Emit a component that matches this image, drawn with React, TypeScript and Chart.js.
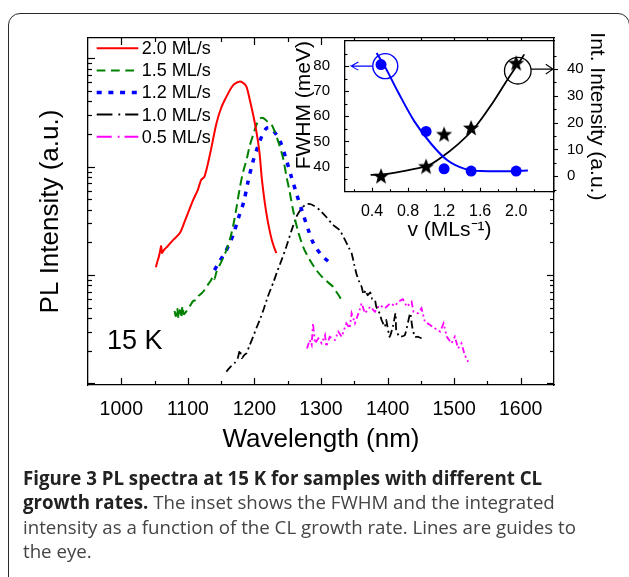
import React, { useEffect, useRef } from 'react';
import { Chart, registerables } from 'chart.js';

Chart.register(...registerables);

const FONT = "'Liberation Sans', Arial, Helvetica, sans-serif";

// ---------------- main chart data ----------------
const seriesLabels = ['2.0 ML/s', '1.5 ML/s', '1.2 ML/s', '1.0 ML/s', '0.5 ML/s'];
const seriesColors = ['#ff0000', '#008000', '#0000ff', '#000000', '#ff00ff'];

const redWl = [1052, 1054, 1056, 1058, 1060, 1061, 1064, 1070, 1078, 1088, 1095, 1102, 1108, 1115, 1120, 1125, 1133, 1143, 1150, 1158, 1165, 1170, 1177, 1183, 1188, 1193, 1200, 1205, 1208, 1211, 1215, 1218, 1222, 1226, 1230, 1233];
const redI = [11.8, 13.2, 14.4, 16.3, 18.5, 16.0, 17.0, 18.5, 21.1, 24.4, 30.9, 39.8, 49.3, 61, 75.5, 81, 128, 251, 348, 443, 533, 580, 609, 593, 548, 414, 264, 177, 128, 78.7, 49.3, 37.1, 27.2, 21.1, 17.7, 15.9];

const greenWl = [1080, 1082, 1084, 1086, 1088, 1090, 1092, 1094, 1097, 1100, 1104, 1108, 1112, 1116, 1120, 1125, 1130, 1135, 1138, 1140, 1143, 1148, 1153, 1158, 1163, 1168, 1173, 1178, 1183, 1188, 1193, 1198, 1203, 1208, 1211, 1215, 1220, 1226, 1230, 1236, 1243, 1248, 1253, 1258, 1265, 1273, 1283, 1293, 1303, 1310, 1318, 1323, 1328, 1331];
const greenI = [4.65, 4.18, 4.96, 4.0, 4.75, 4.0, 5.17, 4.36, 4.55, 4.85, 5.28, 5.75, 5.88, 6.4, 6.7, 7.27, 8.1, 9.0, 9.8, 9.2, 10.7, 12.4, 14.4, 17.0, 21.1, 28.3, 41.6, 63.6, 89.4, 115, 156, 196, 243, 276, 282, 276, 259, 243, 214, 169, 120, 82, 58.4, 39.8, 26, 18.3, 13.8, 11.1, 9.4, 8.6, 7.8, 7.0, 6.3, 5.75];

const blueWl = [1140, 1148, 1156, 1162, 1168, 1176, 1184, 1190, 1197, 1205, 1212, 1218, 1224, 1230, 1238, 1248, 1256, 1263, 1272, 1281, 1287, 1293, 1302, 1311];
const blueI = [11.1, 13.5, 16.1, 19.3, 23.4, 33.6, 47.5, 70.7, 107, 153, 196, 226, 228, 209, 176, 115, 78.7, 56.8, 38.2, 26.0, 20.6, 17.6, 15.0, 13.3];

const blackWl = [1158, 1160, 1165, 1170, 1175, 1178, 1181, 1185, 1188, 1193, 1198, 1203, 1208, 1214, 1220, 1228, 1235, 1242, 1248, 1255, 1263, 1270, 1276, 1282, 1290, 1298, 1308, 1318, 1328, 1336, 1342, 1346, 1350, 1353, 1357, 1361, 1364, 1367, 1370, 1374, 1377, 1381, 1383, 1388, 1391, 1396, 1398, 1403, 1408, 1412, 1413, 1418, 1426, 1434, 1437, 1441, 1446, 1451];
const blackI = [1.28, 1.33, 1.44, 1.53, 1.71, 2.03, 1.71, 1.83, 1.89, 2.26, 2.69, 3.24, 3.84, 4.85, 6.3, 8.4, 11.1, 14.4, 18.3, 25, 34.5, 40.7, 44.3, 45.3, 43.4, 39.8, 34.3, 29, 26.0, 21.1, 17.8, 15.9, 12.4, 10.4, 8.8, 7.8, 6.6, 7.2, 6.5, 6.9, 6.0, 5.9, 5.1, 4.43, 3.84, 3.33, 3.84, 2.69, 3.33, 4.43, 3.1, 2.69, 2.79, 4.43, 3.33, 2.69, 2.69, 2.6];

const magWl = [1279, 1283, 1286, 1288, 1291, 1296, 1301, 1306, 1308, 1313, 1321, 1326, 1331, 1338, 1343, 1346, 1351, 1358, 1361, 1366, 1374, 1381, 1388, 1396, 1404, 1411, 1416, 1423, 1429, 1436, 1439, 1446, 1451, 1456, 1464, 1471, 1479, 1484, 1489, 1496, 1501, 1506, 1511, 1516, 1521];
const magI = [2.1, 2.51, 2.26, 3.58, 2.34, 2.6, 2.34, 2.79, 2.18, 2.69, 2.51, 3.0, 2.69, 3.58, 3.22, 4.43, 3.58, 4.75, 5.48, 4.43, 5.1, 4.58, 5.28, 4.93, 5.48, 5.17, 5.67, 5.97, 5.1, 5.67, 4.58, 4.43, 4.93, 3.7, 3.45, 3.22, 3.0, 3.58, 2.69, 2.34, 2.69, 2.1, 2.34, 1.82, 1.58];

const xMajorTicks = [1000, 1100, 1200, 1300, 1400, 1500, 1600];
const xMinorTicks = [1050, 1150, 1250, 1350, 1450, 1550];
const yMajorTicks = [1, 10, 100, 1000];
const yMinorTicks = [2, 3, 4, 5, 6, 7, 8, 9, 20, 30, 40, 50, 60, 70, 80, 90, 200, 300, 400, 500, 600, 700, 800, 900];

// ---------------- inset data ----------------
const rateV = [0.5, 1.0, 1.2, 1.5, 2.0];
const fwhmMeV = [80.6, 54.0, 39.1, 38.2, 38.2];
const intAU = [0, 3.6, 15.6, 18.0, 42.2];

const fwhmGuideV = [0.45, 0.54, 0.69, 0.87, 1.06, 1.24, 1.43, 1.61, 1.8, 2.13];
const fwhmGuide = [85.2, 80, 69.6, 58, 48.9, 42.4, 39.1, 38.2, 38.1, 38.4];
const intGuideV = [0.385, 0.503, 0.688, 0.872, 1.02, 1.168, 1.353, 1.537, 1.723, 1.908, 2.036, 2.09];
const intGuide = [0.5, 0.6, 1.5, 2.7, 3.9, 7.0, 11.9, 18.0, 26.6, 36.3, 42.7, 45.5];

const blueRingV = [0.547];
const blueRingY = [80];
const blackRingV = [2.018];
const blackRingY = [39.4];
const blueArrowV = [0.248, 0.17, 0.248, 0.17, 0.41];
const blueArrowY = [81.6, 80, 78.4, 80, 80];
const blackArrowV = [2.329, 2.407, 2.329, 2.407, 2.166];
const blackArrowY = [41.8, 40, 38.2, 40, 40];

const insetXTicks = [0.4, 0.8, 1.2, 1.6, 2.0];
const insetXMinor = [0.2, 0.6, 1.0, 1.4, 1.8, 2.2];
const insetLTicks = [40, 50, 60, 70, 80];
const insetLMinor = [35, 45, 55, 65, 75, 85];
const insetRTicks = [0, 10, 20, 30, 40];
const insetRMinor = [-5, 5, 15, 25, 35, 45];

const toXY = (xs: number[], ys: number[]) => xs.map((x, i) => ({ x, y: ys[i] }));

type TickSpec = {
  scale: string;
  side: 'top' | 'bottom' | 'left' | 'right';
  major: number[];
  minor: number[];
  majorLen: number;
  minorLen: number;
  outward?: boolean;
};

function makeTickPlugin(id: string, specs: TickSpec[], width: number) {
  return {
    id,
    afterDraw(chart: any) {
      const { ctx, chartArea: a } = chart;
      ctx.save();
      ctx.strokeStyle = '#000';
      ctx.lineWidth = width;
      for (const s of specs) {
        const sc = chart.scales[s.scale];
        const draw = (v: number, len: number) => {
          const p = Math.round(sc.getPixelForValue(v)) + 0.5;
          const d = s.outward ? -len : len;
          ctx.beginPath();
          if (s.side === 'bottom') { ctx.moveTo(p, a.bottom); ctx.lineTo(p, a.bottom - d); }
          else if (s.side === 'top') { ctx.moveTo(p, a.top); ctx.lineTo(p, a.top + d); }
          else if (s.side === 'left') { ctx.moveTo(a.left, p); ctx.lineTo(a.left + d, p); }
          else { ctx.moveTo(a.right, p); ctx.lineTo(a.right - d, p); }
          ctx.stroke();
        };
        s.major.forEach((v) => draw(v, s.majorLen));
        s.minor.forEach((v) => draw(v, s.minorLen));
      }
      ctx.restore();
    },
  };
}

const legendDashes = [[], [8.7, 5.6], [5, 6.7], [15.7, 6, 1.8, 5], [15, 6, 1.8, 5]];
const legendWidths = [2, 2, 3.5, 2, 2];

const insideLegend = {
  id: 'insideLegend',
  afterDraw(chart: any) {
    const { ctx, chartArea } = chart;
    ctx.save();
    chart.data.datasets.forEach((ds: any, i: number) => {
      const y = chartArea.top + 10.3 + i * 22.1;
      const x0 = chartArea.left + 8.7;
      ctx.strokeStyle = ds.borderColor;
      ctx.lineWidth = legendWidths[i];
      ctx.setLineDash(legendDashes[i]);
      ctx.beginPath();
      ctx.moveTo(x0, y);
      ctx.lineTo(x0 + 41.6, y);
      ctx.stroke();
      ctx.setLineDash([]);
      ctx.fillStyle = '#000';
      ctx.font = `18px ${FONT}`;
      ctx.textBaseline = 'middle';
      ctx.textAlign = 'left';
      ctx.fillText(ds.label, x0 + 45, y + 1);
    });
    ctx.restore();
  },
};

const whiteArea = {
  id: 'whiteArea',
  beforeDraw(chart: any) {
    const { ctx, chartArea: a } = chart;
    ctx.save();
    ctx.fillStyle = '#fff';
    ctx.fillRect(a.left, a.top, a.right - a.left, a.bottom - a.top);
    ctx.restore();
  },
};

function makeStar(): HTMLCanvasElement {
  const c = document.createElement('canvas');
  c.width = 20;
  c.height = 20;
  const g = c.getContext('2d')!;
  g.beginPath();
  for (let k = 0; k < 10; k++) {
    const r = k % 2 === 0 ? 8.5 : 3.6;
    const ang = -Math.PI / 2 + (k * Math.PI) / 5;
    const px = 10 + r * Math.cos(ang);
    const py = 10.5 + r * Math.sin(ang);
    if (k === 0) g.moveTo(px, py); else g.lineTo(px, py);
  }
  g.closePath();
  g.fillStyle = '#000';
  g.fill();
  return c;
}

const setTicks = (vals: number[]) => (s: any) => { s.ticks = vals.map((v) => ({ value: v })); };

export default function App() {
  const mainRef = useRef<HTMLCanvasElement>(null);
  const insetRef = useRef<HTMLCanvasElement>(null);

  useEffect(() => {
    Chart.defaults.font.family = FONT;
    Chart.defaults.color = '#000';
    const border = { display: true, color: '#000', width: 1.3 };

    const lineDs = (i: number, xs: number[], ys: number[], extra: any) => ({
      type: 'line' as const,
      label: seriesLabels[i],
      data: toXY(xs, ys),
      borderColor: seriesColors[i],
      backgroundColor: seriesColors[i],
      pointRadius: 0,
      fill: false,
      ...extra,
    });

    const main = new Chart(mainRef.current!, {
      type: 'line',
      data: {
        datasets: [
          lineDs(0, redWl, redI, { borderWidth: 2, tension: 0.3 }),
          lineDs(1, greenWl, greenI, { borderWidth: 2, borderDash: [9, 5], tension: 0.3 }),
          lineDs(2, blueWl, blueI, { borderWidth: 3.5, borderDash: [4.5, 7], tension: 0.3 }),
          lineDs(3, blackWl, blackI, { borderWidth: 1.8, borderDash: [8, 3.5, 2, 3.5], tension: 0.15 }),
          lineDs(4, magWl, magI, { borderWidth: 1.8, borderDash: [6, 3, 2, 3, 2, 3], tension: 0 }),
        ] as any,
      },
      options: {
        responsive: false,
        animation: false,
        devicePixelRatio: 1,
        layout: { padding: 0 },
        plugins: { legend: { display: false }, tooltip: { enabled: false } },
        scales: {
          x: {
            type: 'linear', position: 'bottom', min: 950, max: 1650,
            afterBuildTicks: setTicks(xMajorTicks),
            ticks: { font: { size: 19.5 }, color: '#000', padding: 5, maxRotation: 0, callback: (v: any) => String(v) },
            grid: { display: false }, border,
            title: { display: true, text: 'Wavelength (nm)', font: { size: 26 }, color: '#000', padding: { top: 0, bottom: 14.4 } },
            afterFit: (s: any) => { s.height = 85; },
          },
          x2: {
            type: 'linear', position: 'top', min: 950, max: 1650,
            ticks: { display: false }, grid: { display: false }, border,
            afterFit: (s: any) => { s.height = 38; },
          },
          y: {
            type: 'logarithmic', position: 'left', min: 0.965, max: 1540,
            ticks: { display: false }, grid: { display: false }, border,
            title: { display: true, text: 'PL Intensity (a.u.)', font: { size: 26 }, color: '#000', padding: { top: 35, bottom: 0 } },
            afterFit: (s: any) => { s.width = 88; },
          },
          y2: {
            type: 'logarithmic', position: 'right', min: 0.965, max: 1540,
            ticks: { display: false }, grid: { display: false }, border,
            afterFit: (s: any) => { s.width = 75; },
          },
        } as any,
      },
      plugins: [
        makeTickPlugin('mainTicks', [
          { scale: 'x', side: 'bottom', major: xMajorTicks, minor: xMinorTicks, majorLen: 7, minorLen: 4 },
          { scale: 'x2', side: 'top', major: xMajorTicks, minor: xMinorTicks, majorLen: 7, minorLen: 4 },
          { scale: 'y', side: 'left', major: yMajorTicks, minor: yMinorTicks, majorLen: 7, minorLen: 4 },
          { scale: 'y2', side: 'right', major: yMajorTicks, minor: yMinorTicks, majorLen: 7, minorLen: 4 },
        ], 1.2),
        insideLegend,
      ],
    });

    const star = makeStar();
    const inset = new Chart(insetRef.current!, {
      type: 'line',
      data: {
        datasets: [
          { label: 'FWHM guide', data: toXY(fwhmGuideV, fwhmGuide), yAxisID: 'yL', borderColor: '#0000ff', borderWidth: 2, pointRadius: 0, cubicInterpolationMode: 'monotone' },
          { label: 'Int guide', data: toXY(intGuideV, intGuide), yAxisID: 'yR', borderColor: '#000', borderWidth: 1.8, pointRadius: 0, cubicInterpolationMode: 'monotone' },
          { label: 'FWHM', data: toXY(rateV, fwhmMeV), yAxisID: 'yL', showLine: false, pointRadius: 5.5, pointBackgroundColor: '#0000ff', pointBorderColor: '#0000ff', pointBorderWidth: 0 },
          { label: 'Int. Intensity', data: toXY(rateV, intAU), yAxisID: 'yR', showLine: false, pointStyle: star, pointRadius: 9 },
          { label: 'ring blue', data: toXY(blueRingV, blueRingY), yAxisID: 'yL', showLine: false, pointRadius: 12.5, pointBackgroundColor: 'rgba(0,0,0,0)', pointBorderColor: '#0000ff', pointBorderWidth: 1.4 },
          { label: 'ring black', data: toXY(blackRingV, blackRingY), yAxisID: 'yR', showLine: false, pointRadius: 13.3, pointBackgroundColor: 'rgba(0,0,0,0)', pointBorderColor: '#000', pointBorderWidth: 1.3 },
          { label: 'arrow blue', data: toXY(blueArrowV, blueArrowY), yAxisID: 'yL', borderColor: '#0000ff', borderWidth: 1.1, pointRadius: 0, tension: 0 },
          { label: 'arrow black', data: toXY(blackArrowV, blackArrowY), yAxisID: 'yR', borderColor: '#000', borderWidth: 1.1, pointRadius: 0, tension: 0 },
        ] as any,
      },
      options: {
        responsive: false,
        animation: false,
        devicePixelRatio: 1,
        layout: { padding: 0 },
        plugins: { legend: { display: false }, tooltip: { enabled: false } },
        scales: {
          x: {
            type: 'linear', position: 'bottom', min: 0.1, max: 2.42,
            afterBuildTicks: setTicks(insetXTicks),
            ticks: { font: { size: 16 }, color: '#000', padding: 2, maxRotation: 0, callback: (v: any) => Number(v).toFixed(1) },
            grid: { display: false }, border,
            title: { display: true, text: 'v (MLs⁻¹)', font: { size: 21 }, color: '#000', padding: { top: 0, bottom: 12.4 } },
            afterFit: (s: any) => { s.height = 63.3; },
          },
          x2: {
            type: 'linear', position: 'top', min: 0.1, max: 2.42,
            ticks: { display: false }, grid: { display: false }, border,
            afterFit: (s: any) => { s.height = 13; },
          },
          yL: {
            type: 'linear', position: 'left', min: 30, max: 90,
            afterBuildTicks: setTicks(insetLTicks),
            ticks: { font: { size: 15 }, color: '#000', padding: 7 },
            grid: { display: false }, border,
            title: { display: true, text: 'FWHM (meV)', align: 'end', font: { size: 21 }, color: '#000', padding: { top: 7, bottom: 0 } },
            afterFit: (s: any) => { s.width = 60; },
          },
          yR: {
            type: 'linear', position: 'right', min: -5.8, max: 50.5,
            afterBuildTicks: setTicks(insetRTicks),
            ticks: { font: { size: 15 }, color: '#000', padding: 5 },
            grid: { display: false }, border,
            title: { display: true, text: 'Int. Intensity (a.u.)', font: { size: 21 }, color: '#000', padding: { top: 15.4, bottom: 0 } },
            afterFit: (s: any) => { s.width = 71; },
          },
        } as any,
      },
      plugins: [
        whiteArea,
        makeTickPlugin('insetTicks', [
          { scale: 'x', side: 'bottom', major: insetXTicks, minor: insetXMinor, majorLen: 4, minorLen: 2.5 },
          { scale: 'yL', side: 'left', major: insetLTicks, minor: insetLMinor, majorLen: 4, minorLen: 2.5 },
          { scale: 'yR', side: 'right', major: insetRTicks, minor: insetRMinor, majorLen: 4, minorLen: 2.5, outward: true },
        ], 1.1),
      ],
    });

    return () => { main.destroy(); inset.destroy(); };
  }, []);

  const captionLine: React.CSSProperties = { display: 'block', whiteSpace: 'nowrap', height: 24.5, lineHeight: '24.5px' };

  return (
    <div style={{ position: 'absolute', left: 0, top: 0, width: 629, height: 577, overflow: 'hidden', background: '#fff' }}>
      <div style={{ position: 'absolute', left: 8, top: 13, width: 621.5, height: 700, border: '1.5px solid #2a2a2a', borderRadius: 12, boxSizing: 'border-box' }} />
      <canvas ref={mainRef} width={629} height={470} style={{ position: 'absolute', left: 0, top: 0 }} />
      <canvas ref={insetRef} width={340} height={230} style={{ position: 'absolute', left: 285, top: 25 }} />
      <div style={{ position: 'absolute', left: 107, top: 327, fontFamily: FONT, fontSize: 27, lineHeight: '26px', color: '#000', whiteSpace: 'nowrap' }}>15 K</div>
      <div style={{ position: 'absolute', left: 23, top: 465.75, fontFamily: "'Open Sans', sans-serif", fontSize: 18.7, color: '#444' }}>
        <span style={captionLine}><b style={{ color: '#222', fontWeight: 700 }}>Figure 3 PL spectra at 15 K for samples with different CL</b></span>
        <span style={captionLine}><b style={{ color: '#222', fontWeight: 700 }}>growth rates.</b> The inset shows the FWHM and the integrated</span>
        <span style={captionLine}>intensity as a function of the CL growth rate. Lines are guides to</span>
        <span style={captionLine}>the eye.</span>
      </div>
    </div>
  );
}
